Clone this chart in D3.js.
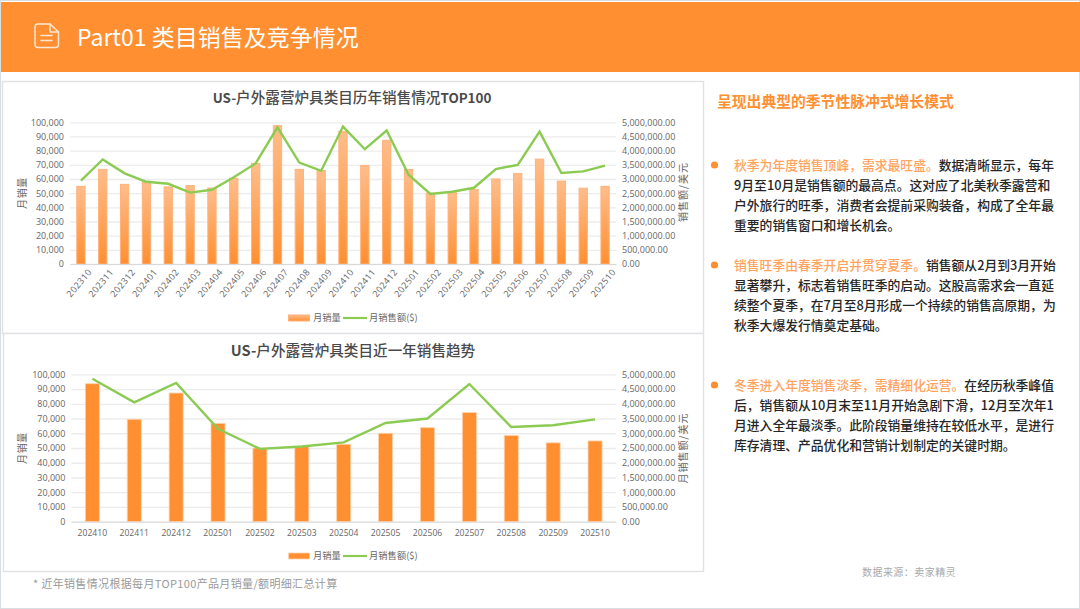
<!DOCTYPE html>
<html lang="zh-CN">
<head>
<meta charset="utf-8">
<title>Part01 类目销售及竞争情况</title>
<script src="https://cdn.jsdelivr.net/npm/d3@7/dist/d3.min.js"></script>
<style>
html,body{margin:0;padding:0;background:#fff;}
svg{display:block;}
text{font-family:"Noto Sans CJK SC","Noto Sans",sans-serif;}
.tick text{font-family:"Open Sans","Noto Sans CJK SC",sans-serif;}
</style>
</head>
<body>
<svg id="slide" width="1080" height="609"></svg>
<script>
// Monthly category figures, Oct 2023 to Oct 2025
const months = ["202310","202311","202312","202401","202402","202403","202404","202405","202406","202407","202408","202409","202410","202411","202412","202501","202502","202503","202504","202505","202506","202507","202508","202509","202510"];
const units = [54800,66800,56200,58000,54400,55300,53600,60500,71000,97600,66800,66000,93600,69500,87300,66700,50000,51000,52500,60000,63800,74000,58500,53500,54800];
const revenue = [2940000,3690000,3200000,2900000,2830000,2520000,2620000,3060000,3550000,4820000,3580000,3290000,4850000,4050000,4710000,3150000,2470000,2550000,2690000,3350000,3500000,4670000,3210000,3270000,3470000];
const unitTicks = [0,10000,20000,30000,40000,50000,60000,70000,80000,90000,100000];
const revenueTicks = [0,500000,1000000,1500000,2000000,2500000,3000000,3500000,4000000,4500000,5000000];

const headerTitle = "Part01 类目销售及竞争情况";
const sideTitle = "呈现出典型的季节性脉冲式增长模式";
// Full-width punctuation for the commentary copy
const COMMA = "\uFF0C", COLON = "\uFF1A";
const notes = [
  {lead:`秋季为年度销售顶峰${COMMA}需求最旺盛。`, lines:[`数据清晰显示${COMMA}每年`,"9月至10月是销售额的最高点。这对应了北美秋季露营和",`户外旅行的旺季${COMMA}消费者会提前采购装备${COMMA}构成了全年最`,"重要的销售窗口和增长机会。"], y:165},
  {lead:"销售旺季由春季开启并贯穿夏季。", lines:["销售额从2月到3月开始",`显著攀升${COMMA}标志着销售旺季的启动。这股高需求会一直延`,`续整个夏季${COMMA}在7月至8月形成一个持续的销售高原期${COMMA}为`,"秋季大爆发行情奠定基础。"], y:265},
  {lead:`冬季进入年度销售淡季${COMMA}需精细化运营。`, lines:["在经历秋季峰值",`后${COMMA}销售额从10月末至11月开始急剧下滑${COMMA}12月至次年1`,`月进入全年最淡季。此阶段销量维持在较低水平${COMMA}是进行`,"库存清理、产品优化和营销计划制定的关键时期。"], y:385}
];

const ORANGE = "#ff8f31", GREEN = "#8ccb52", GREY = "#666";
const svg = d3.select("#slide");

// Vertical fade used by the bars of the long-range chart
const grad = svg.append("defs").append("linearGradient")
  .attr("id","barFade").attr("x1",0).attr("y1",0).attr("x2",0).attr("y2",1);
grad.append("stop").attr("offset","0%").attr("stop-color","#ffbd8b");
grad.append("stop").attr("offset","100%").attr("stop-color","#ff8f31");

// Slide frame and header band
svg.append("rect").attr("x",0.5).attr("y",0.5).attr("width",1079).attr("height",608).attr("fill","#fff").attr("stroke","#d9dee2");
svg.append("rect").attr("x",1).attr("y",2).attr("width",1079).attr("height",70).attr("fill",ORANGE);

// Document icon in the header
const icon = svg.append("g").attr("fill","none").attr("stroke","#ffe6d2").attr("stroke-width",1.5).attr("stroke-linejoin","round").attr("stroke-linecap","round");
icon.append("path").attr("d","M38 24H50L58.5 32V44.5Q58.5 47.5 55.5 47.5H38Q35 47.5 35 44.5V27Q35 24 38 24Z");
icon.append("path").attr("d","M50 24V32H58.5M41 35.5H52M41 40.5H52");

svg.append("text").attr("x",77).attr("y",45.5).attr("font-size",23).attr("fill","#fff").attr("font-weight",400).text(headerTitle);

function drawChart(cfg){
  const g = svg.append("g");
  g.append("rect").attr("x",cfg.box[0]+0.5).attr("y",cfg.box[1]+0.5).attr("width",cfg.box[2]).attr("height",cfg.box[3])
    .attr("fill","#fff").attr("stroke","#dfe2e4").attr("stroke-width",1.4);

  const x = d3.scaleBand().domain(cfg.cats).range([cfg.left,cfg.right]).paddingInner(cfg.padding).paddingOuter(cfg.padding/2);
  const yL = d3.scaleLinear().domain([0,100000]).range([cfg.bottom,cfg.top]);
  const yR = d3.scaleLinear().domain([0,5000000]).range([cfg.bottom,cfg.top]);

  // Gridlines and left value axis
  const left = g.append("g").attr("transform",`translate(${cfg.left},0)`)
    .call(d3.axisLeft(yL).tickValues(unitTicks).tickFormat(d3.format(",")).tickSize(-(cfg.right-cfg.left)).tickPadding(6));
  left.select(".domain").remove();
  left.selectAll(".tick line").attr("stroke","#ececec").attr("stroke-width",1.3);
  left.selectAll(".tick text").attr("font-size",9).attr("fill",GREY);

  // Right value axis, labels set flush left
  const right = g.append("g").attr("transform",`translate(${cfg.right},0)`)
    .call(d3.axisRight(yR).tickValues(revenueTicks).tickFormat(d3.format(",.2f")).tickSize(0).tickPadding(6));
  right.select(".domain").remove();
  right.selectAll(".tick text").attr("font-size",9).attr("fill",GREY);

  // Bars
  g.selectAll("rect.bar").data(cfg.cats.map((c,i)=>({c,v:cfg.units[i]}))).join("rect")
    .attr("class","bar")
    .attr("x",d=>x(d.c)).attr("width",x.bandwidth())
    .attr("y",d=>yL(d.v)).attr("height",d=>cfg.bottom-yL(d.v))
    .attr("fill",cfg.barFill).attr("stroke",cfg.barStroke).attr("stroke-width",cfg.barStrokeWidth);

  // Category axis
  const bottom = g.append("g").attr("transform",`translate(0,${cfg.bottom})`)
    .call(d3.axisBottom(x).tickSize(0).tickPadding(cfg.rotate?10:8));
  bottom.select(".domain").attr("stroke","#d9d9d9");
  bottom.selectAll(".tick text").attr("font-size",cfg.rotate?9:8.6).attr("fill",GREY);
  if(cfg.rotate){
    bottom.selectAll(".tick text").attr("text-anchor","end").attr("dx","0.1em").attr("dy","0.45em")
      .attr("letter-spacing",0.4).attr("transform","rotate(-50)");
  }

  // Revenue line on the secondary scale
  const line = d3.line().x((d,i)=>x(cfg.cats[i])+x.bandwidth()/2).y(d=>yR(d));
  g.append("path").datum(cfg.revenue).attr("d",line).attr("fill","none").attr("stroke",GREEN).attr("stroke-width",2.4).attr("stroke-linejoin","miter");

  // Title, with Latin runs heavier and slightly tighter than the CJK run
  const title = g.append("text").attr("x",cfg.titleX).attr("y",cfg.titleY).attr("text-anchor","middle").attr("font-size",14.6).attr("fill","#4a4a4a");
  cfg.title.forEach(([t,w,s])=>title.append("tspan").attr("font-weight",w).attr("font-size",s).text(t));

  // Axis titles, both reading bottom to top
  g.append("text").attr("transform",`translate(26,${cfg.axisY}) rotate(-90)`).attr("text-anchor","middle").attr("font-size",10).attr("letter-spacing",0.6).attr("fill",GREY).text("月销量");
  g.append("text").attr("transform",`translate(687,${cfg.axisY2}) rotate(-90)`).attr("text-anchor","middle").attr("font-size",10).attr("letter-spacing",1).attr("fill",GREY).text(cfg.axisRight);

  // Legend
  const ly = cfg.legendY;
  g.append("rect").attr("x",288.5).attr("y",ly-3).attr("width",21).attr("height",6).attr("fill",cfg.barFill).attr("stroke",cfg.barStroke).attr("stroke-width",cfg.barStrokeWidth);
  g.append("text").attr("x",313).attr("y",ly+3.3).attr("font-size",9.3).attr("fill",GREY).text("月销量");
  g.append("line").attr("x1",343).attr("x2",367).attr("y1",ly).attr("y2",ly).attr("stroke",GREEN).attr("stroke-width",2.2);
  g.append("text").attr("x",369).attr("y",ly+3.3).attr("font-size",9.3).attr("fill",GREY).text("月销售额($)");
}

drawChart({
  box:[2,81,701,252], cats:months, units, revenue,
  left:70, right:616, top:122.3, bottom:264, padding:0.62,
  barFill:"url(#barFade)", barStroke:"#ffb27a", barStrokeWidth:1, rotate:true,
  title:[["US-",700,13.4],["户外露营炉具类目历年销售情况",500,14.6],["TOP100",700,13.4]], titleX:352, titleY:103,
  axisY:193, axisY2:192, axisRight:"销售额/美元", legendY:318
});
drawChart({
  box:[3,333,700,238], cats:months.slice(12), units:units.slice(12), revenue:revenue.slice(12),
  left:71.4, right:616, top:374.3, bottom:521.7, padding:0.665,
  barFill:ORANGE, barStroke:"#ffd2ae", barStrokeWidth:0.8, rotate:false,
  title:[["US-",700,14.6],["户外露营炉具类目近一年销售趋势",500,14.6]], titleX:353, titleY:356,
  axisY:448, axisY2:448, axisRight:"月销售额/美元", legendY:556
});

// Commentary column
svg.append("text").attr("x",717).attr("y",106.5).attr("font-size",14.8).attr("font-weight",700).attr("fill",ORANGE).text(sideTitle);

const LINE = 20, BODY = 12.8, TEXT_X = 734;
notes.forEach(n=>{
  svg.append("circle").attr("cx",714.5).attr("cy",n.y).attr("r",3.6).attr("fill",ORANGE);
  const first = svg.append("text").attr("x",TEXT_X).attr("y",n.y+4.6).attr("font-size",BODY);
  first.append("tspan").attr("fill","#ffa35e").attr("font-weight",500).text(n.lead);
  first.append("tspan").attr("fill","#262626").attr("font-weight",500).text(n.lines[0]);
  n.lines.slice(1).forEach((t,i)=>{
    svg.append("text").attr("x",TEXT_X).attr("y",n.y+4.6+LINE*(i+1)).attr("font-size",BODY).attr("font-weight",500).attr("fill","#262626").text(t);
  });
});

// Footnote and source
svg.append("text").attr("x",33).attr("y",588).attr("font-size",11).attr("letter-spacing",0.35).attr("fill","#9a9a9a").text("* 近年销售情况根据每月TOP100产品月销量/额明细汇总计算");
svg.append("text").attr("x",862).attr("y",575.5).attr("font-size",10).attr("letter-spacing",0.45).attr("fill","#a9a9a9").text(`数据来源${COLON}卖家精灵`);
</script>
</body>
</html>
